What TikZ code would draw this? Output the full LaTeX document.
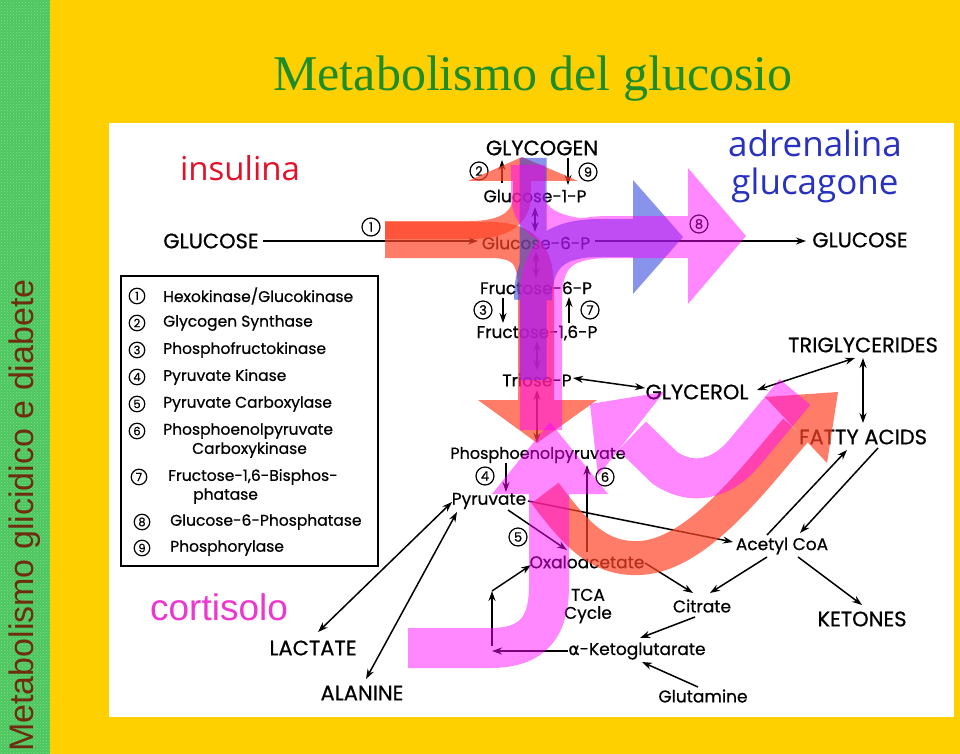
\documentclass[tikz,border=0pt]{standalone}
\usepackage{fontspec}
\setmainfont{Poppins}[FakeBold=0.6]
\newfontfamily\seriffont{Liberation Serif}
\newfontfamily\arialfont{Liberation Sans}
\newfontfamily\comicfont{Open Sans}
\newfontfamily\dejavufont{DejaVu Sans}[FakeBold=0.6]
\usetikzlibrary{arrows.meta,patterns,calc}
\definecolor{bgyellow}{RGB}{255,208,0}
\definecolor{stripgreen}{RGB}{78,198,96}
\definecolor{stripdots}{RGB}{125,222,135}
\definecolor{titlegreen}{RGB}{30,140,40}
\definecolor{sidebrown}{RGB}{110,45,15}
\definecolor{insred}{RGB}{228,16,40}
\definecolor{adrblue}{RGB}{40,50,190}
\definecolor{cortmag}{RGB}{236,56,206}
\definecolor{ovred}{RGB}{255,70,40}
\definecolor{ovpink}{RGB}{255,0,255}
\definecolor{ovblue}{RGB}{40,60,220}
\begin{document}
\begin{tikzpicture}[x=1pt,y=-1pt,
  lbl/.style={font=\fontsize{17}{17}\selectfont, inner sep=1pt},
  capl/.style={font=\fontsize{21}{21}\selectfont, inner sep=1pt},
  leg/.style={font=\fontsize{15.5}{15.5}\selectfont, anchor=west, inner sep=0pt},
  cnum/.style={circle, draw, line width=1.2pt, inner sep=0pt, minimum size=18pt, font=\fontsize{13}{13}\selectfont},
  lnum/.style={cnum, minimum size=15.5pt, font=\fontsize{11.5}{11.5}\selectfont},
  arr/.style={line width=1.5pt, -{Stealth[length=10pt,width=7pt]}},
  darr/.style={line width=1.5pt, {Stealth[length=10pt,width=7pt]}-{Stealth[length=10pt,width=7pt]}},
  redgrp/.style={transparency group, opacity=0.7},
  pinkgrp/.style={transparency group, opacity=0.47},
  bluegrp/.style={transparency group, opacity=0.55}]
\useasboundingbox (0,0) rectangle (960,754);
% background
\fill[bgyellow] (0,0) rectangle (960,754);
\fill[stripgreen] (0,0) rectangle (50,754);
\fill[pattern=crosshatch dots, pattern color=stripdots] (0,0) rectangle (50,754);
\node[rotate=90, anchor=base west, inner sep=0pt, text=sidebrown,
  font=\arialfont\fontsize{34}{34}\selectfont] (side) at (33,752) {Metabolismo glicidico e diabete};
\node[font=\seriffont\fontsize{50}{50}\selectfont, text=titlegreen, inner sep=0pt] (title) at (533,79) {Metabolismo del glucosio};
\fill[white] (109,123) rectangle (954,717);

% legend
\node[draw, line width=1.8pt, minimum width=257pt, minimum height=290pt, anchor=north west, inner sep=0pt] (legend) at (120,275) {};
\node[lnum] (n1) at (137,296) {1}; \node[leg] (l1) at (163,296) {Hexokinase/Glucokinase};
\node[lnum] (n2) at (137,323) {2}; \node[leg] (l2) at (163,323) {Glycogen Synthase};
\node[lnum] (n3) at (137,350) {3}; \node[leg] (l3) at (163,350) {Phosphofructokinase};
\node[lnum] (n4) at (137,377) {4}; \node[leg] (l4) at (163,377) {Pyruvate Kinase};
\node[lnum] (n5) at (137,404) {5}; \node[leg] (l5) at (163,404) {Pyruvate Carboxylase};
\node[lnum] (n6) at (137,431) {6}; \node[leg] (l6) at (163,431) {Phosphoenolpyruvate};
\node[leg] (l6b) at (192,450) {Carboxykinase};
\node[lnum] (n7) at (139,477) {7}; \node[leg] (l7) at (168,477) {Fructose-1,6-Bisphos-};
\node[leg] (l7b) at (193,496) {phatase};
\node[lnum] (n8) at (142,522) {8}; \node[leg] (l8) at (170,522) {Glucose-6-Phosphatase};
\node[lnum] (n9) at (142,548) {9}; \node[leg] (l9) at (170,548) {Phosphorylase};

% diagram labels
\node[capl] (glycogen) at (542,148) {GLYCOGEN};
\node[lbl] (g1p) at (535,196) {Glucose-1-P};
\node[capl] (glucL) at (211,241) {GLUCOSE};
\node[lbl] (g6p) at (536,243) {Glucose-6-P};
\node[capl] (glucR) at (860,240) {GLUCOSE};
\node[lbl] (f6p) at (536,288) {Fructose-6-P};
\node[lbl] (f16p) at (537,333) {Fructose-1,6-P};
\node[lbl] (triose) at (537,380) {Triose-P};
\node[lbl, font=\fontsize{16}{16}\selectfont] (pep) at (538,455) {Phosphoenolpyruvate};
\node[lbl] (pyr) at (489,501) {Pyruvate};
\node[lbl] (oaa) at (587,562) {Oxaloacetate};
\node[lbl, align=center, font=\fontsize{17}{18}\selectfont] (tca) at (588,606) {TCA\\Cycle};
\node[lbl] (citrate) at (702,606) {Citrate};
\node[lbl] (acoa) at (782,546) {Acetyl CoA};
\node[capl] (ketones) at (862,619) {KETONES};
\node[lbl] (akg) at (637,651) {{\dejavufont α}-Ketoglutarate};
\node[lbl] (glutamine) at (703,696) {Glutamine};
\node[capl] (lactate) at (313,648) {LACTATE};
\node[capl] (alanine) at (362,693) {ALANINE};
\node[capl] (glycerol) at (697,392) {GLYCEROL};
\node[capl] (trig) at (863,345) {TRIGLYCERIDES};
\node[capl] (fa) at (863,437) {FATTY ACIDS};
\node[cnum] (c1) at (371,227) {1};
\node[cnum] (c2) at (479,171) {2};
\node[cnum] (c9) at (588,172) {9};
\node[cnum] (c8) at (699,224) {8};
\node[cnum] (c3) at (483,310) {3};
\node[cnum] (c7) at (590,310) {7};
\node[cnum] (c4) at (485,476) {4};
\node[cnum] (c6) at (605,477) {6};
\node[cnum] (c5) at (518,537) {5};
\coordinate (kgturn) at (492,651);
\coordinate (kgup) at (492,591);

% connectors
\draw[arr] ($(glucL)+(52,0)$) -- ($(g6p)+(-58,-2)$);
\draw[arr] ($(g6p)+(59,-2)$) -- ($(glucR)+(-54,1)$);
\draw[arr] ($(g1p)+(-33,-13)$) -- ($(glycogen)+(-40,12)$);
\draw[arr] ($(glycogen)+(26,10)$) -- ($(g1p)+(33,-11)$);
\draw[darr] ($(g1p)+(0,11)$) -- ($(g6p)+(-1,-11)$);
\draw[darr] ($(g6p)+(0,9)$) -- ($(f6p)+(0,-10)$);
\draw[arr] ($(f6p)+(-33,10)$) -- ($(f16p)+(-34,-10)$);
\draw[arr] ($(f16p)+(32,-10)$) -- ($(f6p)+(33,9)$);
\draw[darr] ($(f16p)+(0,8)$) -- ($(triose)+(0,-10)$);
\draw[darr] ($(triose)+(0,10)$) -- ($(pep)+(-1,-12)$);
\draw[darr] ($(triose)+(36,-2)$) -- ($(glycerol)+(-52,-4)$);
\draw[darr] ($(glycerol)+(60,-2)$) -- ($(trig)+(-8,13)$);
\draw[darr] ($(trig)+(0,13)$) -- ($(fa)+(0,-14)$);
\draw[arr] ($(pep)+(-32,8)$) -- ($(pyr)+(17,-9)$);
\draw[arr] ($(oaa)+(0,-10)$) -- ($(pep)+(49,10)$);
\draw[arr] ($(pyr)+(39,0)$) -- ($(acoa)+(-49,-4)$);
\draw[arr] ($(pyr)+(19,9)$) -- ($(oaa)+(-20,-12)$);
\draw[darr] ($(lactate)+(5,-16)$) -- ($(pyr)+(-37,1)$);
\draw[darr] ($(alanine)+(4,-14)$) -- ($(pyr)+(-32,11)$);
\draw[arr] ($(oaa)+(58,1)$) -- ($(citrate)+(-9,-13)$);
\draw[arr] ($(acoa)+(-15,11)$) -- ($(citrate)+(8,-13)$);
\draw[arr] ($(acoa)+(16,11)$) -- ($(ketones)+(0,-14)$);
\draw[arr] ($(citrate)+(-7,11)$) -- ($(akg)+(3,-13)$);
\draw[arr] ($(glutamine)+(-5,-9)$) -- ($(akg)+(5,11)$);
\draw[arr] ($(akg)+(-69,0)$) -- (kgturn);
\draw[arr] ($(kgturn)+(0,-5)$) -- (kgup);
\draw[arr] (kgup) -- ($(oaa)+(-56,3)$);
\draw[arr] ($(acoa)+(-15,-11)$) -- ($(fa)+(-16,13)$);
\draw[arr] ($(fa)+(15,11)$) -- ($(acoa)+(18,-13)$);

% overlays: insulina (red)
\begin{scope}[redgrp]
  \draw[ovred, line width=18pt] (385,230) -- (470,230) .. controls (505,230) and (522,218) .. (522,195) -- (522,181);
  \fill[ovred] (468,181) -- (578,181) -- (522,157) -- cycle;
\end{scope}
\begin{scope}[redgrp]
  \draw[ovred, line width=36pt] (385,240) -- (490,240) .. controls (525,240) and (536,255) .. (536,290) -- (536,400);
  \fill[ovred] (478,400) -- (597,400) -- (537,443) -- cycle;
\end{scope}
\begin{scope}[redgrp]
  \draw[ovred, line width=34pt] (545,493) .. controls (575,533) and (598,560) .. (640,558) .. controls (700,555) and (760,470) .. (796,430);
  \fill[ovred] (765,397) -- (838,392) -- (827,463) -- cycle;
\end{scope}
% adrenalina (blue)
\begin{scope}[bluegrp]
  \draw[ovblue, line width=27pt] (533,158) -- (533,380);
  \draw[ovblue, line width=38pt] (533,300) .. controls (533,255) and (555,238) .. (600,238) -- (633,238);
  \fill[ovblue] (633,180) -- (683,237) -- (633,294) -- cycle;
\end{scope}
% glucagone (pink)
\begin{scope}[pinkgrp]
  \draw[ovpink, line width=42pt] (541,430) -- (541,300) .. controls (541,255) and (560,237) .. (610,237) -- (688,237);
  \draw[ovpink, line width=34pt] (528,165) -- (528,195) .. controls (528,225) and (560,237) .. (610,237);
  \fill[ovpink] (688,168) -- (746,236) -- (688,304) -- cycle;
\end{scope}
\begin{scope}[pinkgrp]
  \draw[ovpink, line width=40pt] (795,392) -- (745,452) .. controls (720,482) and (690,485) .. (665,468) -- (632,436);
  \fill[ovpink] (598,476) -- (664,392) -- (590,404) -- cycle;
\end{scope}
% cortisolo (pink)
\begin{scope}[pinkgrp]
  \draw[ovpink, line width=40pt] (408,648) -- (490,648) .. controls (535,648) and (549,625) .. (549,585) -- (549,494);
  \fill[ovpink] (492,494) -- (608,494) -- (550,422) -- cycle;
\end{scope}

% hormone labels
\node[font=\comicfont\fontsize{33}{33}\selectfont, text=insred, inner sep=0pt] (insulina) at (240,168) {insulina};
\node[font=\comicfont\fontsize{35}{38}\selectfont, text=adrblue, inner sep=0pt, align=center] (adren) at (815,166) {adrenalina\\glucagone};
\node[font=\arialfont\fontsize{37}{37}\selectfont, text=cortmag, inner sep=0pt] (cortisolo) at (219,607) {cortisolo};
\end{tikzpicture}
\end{document}
